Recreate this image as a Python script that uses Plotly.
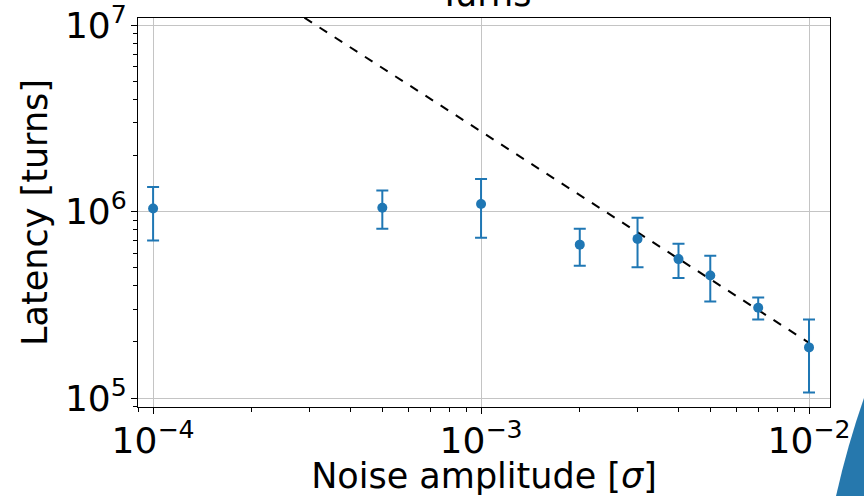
import plotly.graph_objects as go

# Data
noise = [1e-4, 5e-4, 1e-3, 2e-3, 3e-3, 4e-3, 5e-3, 7e-3, 1e-2]
latency = [1.04e6, 1.05e6, 1.10e6, 6.66e5, 7.15e5, 5.57e5, 4.55e5, 3.05e5, 1.87e5]
err_hi = [1.36e6, 1.30e6, 1.50e6, 8.10e5, 9.30e5, 6.73e5, 5.81e5, 3.47e5, 2.64e5]
err_lo = [7.00e5, 8.10e5, 7.26e5, 5.13e5, 5.03e5, 4.41e5, 3.30e5, 2.64e5, 1.07e5]
fit_x = [1e-4, 1e-2]
fit_y = [3.67e7, 1.98e5]

x_ticks = [1e-4, 1e-3, 1e-2]
x_ticktext = ["10<sup>\u22124</sup>", "10<sup>\u22123</sup>", "10<sup>\u22122</sup>"]
y_ticks = [1e5, 1e6, 1e7]
y_ticktext = ["10<sup>5</sup>", "10<sup>6</sup>", "10<sup>7</sup>"]

x_minor = [m * 10 ** e for e in (-5, -4, -3, -2) for m in range(2, 10)]
y_minor = [m * 10 ** e for e in (4, 5, 6, 7) for m in range(2, 10)]

blue = "#1f77b4"
font = "DejaVu Sans"

fig = go.Figure()
fig.add_trace(go.Scatter(
    x=fit_x, y=fit_y, mode="lines",
    line=dict(color="black", width=2, dash="dash"),
    showlegend=False, hoverinfo="skip"))
fig.add_trace(go.Scatter(
    x=noise, y=latency, mode="markers",
    marker=dict(color=blue, size=10),
    error_y=dict(type="data", symmetric=False,
                 array=[h - v for h, v in zip(err_hi, latency)],
                 arrayminus=[v - l for v, l in zip(latency, err_lo)],
                 color=blue, thickness=2, width=6),
    showlegend=False))

axis_common = dict(
    type="log", showline=True, linecolor="black", linewidth=1, mirror=True,
    ticks="outside", ticklen=6, tickwidth=1, tickcolor="black",
    showgrid=True, gridcolor="#c4c4c4", gridwidth=1, zeroline=False,
    automargin=False, ticklabeloverflow="allow",
    tickfont=dict(family=font, size=36, color="black"),
)

fig.update_xaxes(**axis_common, range=[-4.046, -1.936],
                 tickvals=x_ticks, ticktext=x_ticktext, ticklabelstandoff=-4,
                 minor=dict(tickvals=x_minor, ticks="outside", ticklen=4,
                            tickcolor="black", showgrid=False),
                 title=dict(text="Noise amplitude [<i>\u03c3</i>]", standoff=4,
                            font=dict(family=font, size=35, color="black")))
fig.update_yaxes(**axis_common, range=[4.952, 7.040],
                 tickvals=y_ticks, ticktext=y_ticktext, ticklabelstandoff=-3,
                 minor=dict(tickvals=y_minor, ticks="outside", ticklen=4,
                            tickcolor="black", showgrid=False),
                 title=dict(text="Latency [turns]", standoff=6,
                            font=dict(family=font, size=35, color="black")))

fig.add_annotation(text="Turns", xref="paper", yref="paper", x=0.5, y=1.0,
                   yanchor="bottom", yshift=2, showarrow=False,
                   font=dict(family=font, size=35, color="black"))

# decorative slide wedge at bottom-right
fig.add_shape(type="path", xref="paper", yref="paper",
              path="M 1.0491 0.0231 Q 1.025 -0.10 1.0087 -0.2288 L 1.0491 -0.2288 Z",
              fillcolor="#2678ad", line=dict(width=0), layer="above")

fig.update_layout(
    width=864, height=496,
    margin=dict(l=138, r=34, t=18, b=89),
    paper_bgcolor="white", plot_bgcolor="white",
    font=dict(family=font, color="black"),
)

fig.write_html("out.html")
